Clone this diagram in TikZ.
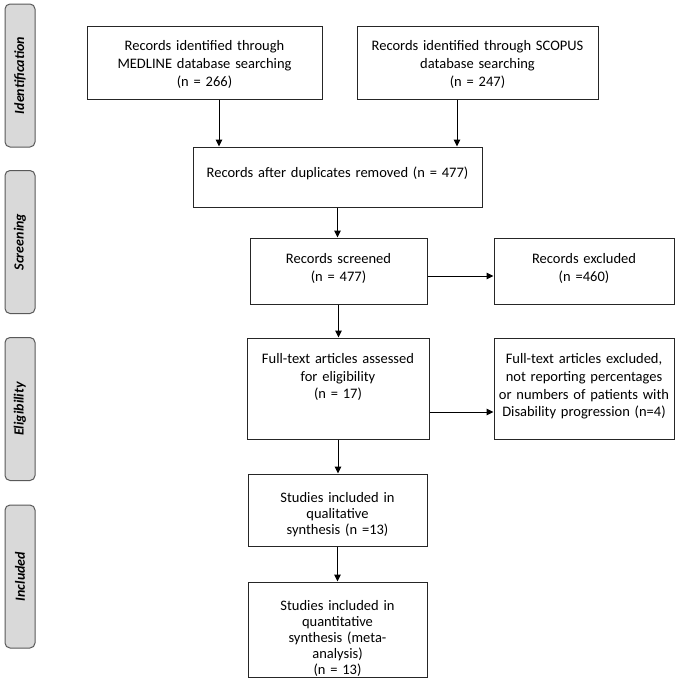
\documentclass[tikz,border=0pt]{standalone}
\usepackage{fontspec}
\setmainfont{Carlito}
\usetikzlibrary{arrows.meta}
\definecolor{sidefill}{HTML}{D9D9D9}
\definecolor{sideline}{HTML}{595959}
\tikzset{
  box/.style={draw=black!85, line width=1pt, inner sep=0pt},
  sidebox/.style={draw=sideline, fill=sidefill, line width=1pt, rounded corners=5pt,
    rotate=90, inner sep=0pt, minimum width=143pt, minimum height=30pt,
    font=\fontsize{14}{16}\selectfont\bfseries\itshape},
  txt/.style={inner sep=0pt, align=center, text width=#1, font=\fontsize{14.5}{17.7}\selectfont},
  txtb/.style={inner sep=0pt, align=center, text width=#1, font=\fontsize{14.5}{16}\selectfont},
  arr/.style={line width=1pt, draw=black, -{Triangle[length=7pt,width=6.5pt]}}
}
\begin{document}
\begin{tikzpicture}[x=1pt,y=-1pt]
\path[use as bounding box] (0,0) rectangle (676,680);
% side labels
\node[sidebox] (s1) at (20,75.5) {Identification};
\node[sidebox] (s2) at (20,242) {Screening};
\node[sidebox] (s3) at (20,409) {Eligibility};
\node[sidebox] (s4) at (20,576.5) {Included};
% boxes
\node[box, minimum width=235pt, minimum height=73pt] (med) at (204.5,62.5) {};
\node[txt=230pt] (tmed) at (204.5,64.5) {Records identified through\\MEDLINE database searching\\(n = 266)};
\node[box, minimum width=241pt, minimum height=73pt] (sco) at (477.5,62.5) {};
\node[txt=236pt] (tsco) at (477.5,64.5) {Records identified through SCOPUS\\database searching\\(n = 247)};
\node[box, minimum width=289pt, minimum height=60pt] (dup) at (337.5,177) {};
\node[txt=285pt] (tdup) at (337.5,173) {Records after duplicates removed (n = 477)};
\node[box, minimum width=177pt, minimum height=66pt] (scr) at (338.5,271) {};
\node[txt=170pt] (tscr) at (338.5,268.5) {Records screened\\(n = 477)};
\node[box, minimum width=180pt, minimum height=66pt] (ex1) at (584,271) {};
\node[txt=175pt] (tex1) at (584,268.5) {Records excluded\\(n =460)};
\node[box, minimum width=182pt, minimum height=101pt] (ful) at (338,388.5) {};
\node[txt=178pt] (tful) at (338,377) {Full-text articles assessed\\for eligibility\\(n = 17)};
\node[box, minimum width=180pt, minimum height=101pt] (ex2) at (584,388.5) {};
\node[txt=178pt] (tex2) at (584,386.5) {Full-text articles excluded,\\not reporting percentages\\or numbers of patients with\\Disability progression (n=4)};
\node[box, minimum width=179pt, minimum height=72pt] (qua) at (337.5,510) {};
\node[txtb=175pt] (tqua) at (337.5,514.5) {Studies included in\\qualitative\\synthesis (n =13)};
\node[box, minimum width=179pt, minimum height=95pt] (qnt) at (337.5,629.5) {};
\node[txtb=175pt] (tqnt) at (337.5,638.5) {Studies included in\\quantitative\\synthesis (meta-\\analysis)\\(n = 13)};
% connector guides
\coordinate (ma) at (219,0);
\coordinate (sa) at (457,0);
\coordinate (h1) at (0,276);
\coordinate (h2) at (0,412);
% connectors
\draw[arr] (med.south -| ma) -- (dup.north -| ma);
\draw[arr] (sco.south -| sa) -- (dup.north -| sa);
\draw[arr] (dup.south) -- (dup.south |- scr.north);
\draw[arr] (scr.east |- h1) -- (ex1.west |- h1);
\draw[arr] (scr.south) -- (scr.south |- ful.north);
\draw[arr] (ful.east |- h2) -- (ex2.west |- h2);
\draw[arr] (ful.south) -- (ful.south |- qua.north);
\draw[arr] (qua.south) -- (qua.south |- qnt.north);
\end{tikzpicture}
\end{document}
